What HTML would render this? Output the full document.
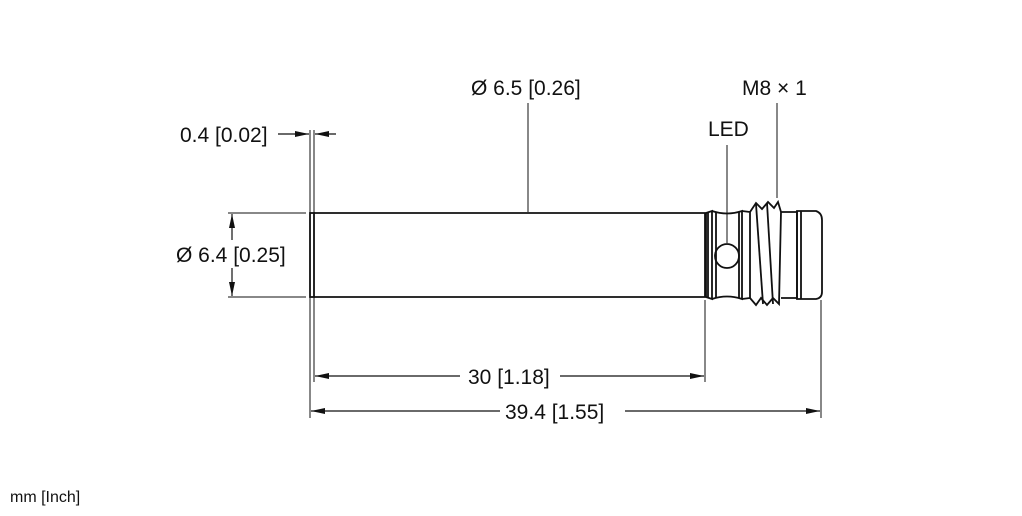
<!DOCTYPE html>
<html><head><style>
body{margin:0;background:#fff;width:1022px;height:511px;overflow:hidden}
text{font-family:"Liberation Sans",sans-serif;font-size:21px;fill:#111}
</style></head><body>
<svg width="1022" height="511" viewBox="0 0 1022 511">
<defs>
<marker id="a" viewBox="0 0 14 6" refX="14" refY="3" markerWidth="14" markerHeight="6" orient="auto-start-reverse" markerUnits="userSpaceOnUse"><path d="M0,0L14,3L0,6z" fill="#111"/></marker>
</defs>
<g stroke="#111" fill="none">
<g stroke-width="1">
<line x1="310" y1="130" x2="310" y2="418"/>
<line x1="314" y1="130" x2="314" y2="382"/>
<line x1="705" y1="300" x2="705" y2="382"/>
<line x1="821" y1="300" x2="821" y2="418"/>
<line x1="228" y1="213" x2="306" y2="213"/>
<line x1="228" y1="297" x2="306" y2="297"/>
<line x1="528" y1="103" x2="528" y2="212"/>
<line x1="727" y1="145" x2="727" y2="243"/>
<line x1="777" y1="103" x2="777" y2="198"/>
</g>
<g stroke-width="1.2">
<line x1="278" y1="134" x2="309" y2="134" marker-end="url(#a)"/>
<line x1="336" y1="134" x2="315" y2="134" marker-end="url(#a)"/>
<line x1="232" y1="240" x2="232" y2="214" marker-end="url(#a)"/>
<line x1="232" y1="268" x2="232" y2="296" marker-end="url(#a)"/>
<line x1="315" y1="376" x2="460" y2="376" marker-start="url(#a)"/>
<line x1="560" y1="376" x2="704" y2="376" marker-end="url(#a)"/>
<line x1="311" y1="411" x2="500" y2="411" marker-start="url(#a)"/>
<line x1="625" y1="411" x2="820" y2="411" marker-end="url(#a)"/>
</g>
<g stroke-width="1.8">
<rect x="310" y="213" width="4" height="84"/>
<path d="M314,213H706V297H314"/>
<line x1="705" y1="213" x2="705" y2="297"/>
<path d="M706,213 L712,211 L712,299 L706,297"/>
<line x1="708" y1="212" x2="708" y2="298"/>
<path d="M712,211 Q727,216 742,211 V299 Q727,294 712,299"/>
<line x1="716" y1="212" x2="716" y2="298"/>
<line x1="739" y1="212" x2="739" y2="298"/>
<circle cx="727" cy="256" r="12"/>
<path d="M742,211 L750,212 V298 L742,299"/>
<path d="M750,212 L756,203 L762,209 L768,202 L774,208 L778,202 L781,212 L779,304 L773,298 L767,305 L761,298 L756,305 L750,298"/>
<line x1="756" y1="204" x2="763" y2="304"/>
<line x1="767" y1="203" x2="773" y2="304"/>
<path d="M781,212 H797 V298 H781"/>
<path d="M797,211 H816 Q822,213 822,220 V292 Q822,298 816,299 H797 Z"/>
<line x1="801" y1="211" x2="801" y2="299"/>
</g>
</g>
<text x="180" y="142">0.4 [0.02]</text>
<text x="176" y="262">Ø 6.4 [0.25]</text>
<text x="471" y="95">Ø 6.5 [0.26]</text>
<text x="708" y="136">LED</text>
<text x="742" y="95">M8 × 1</text>
<text x="468" y="384">30 [1.18]</text>
<text x="505" y="419">39.4 [1.55]</text>
<text x="10" y="502" style="font-size:16px">mm [Inch]</text>
</svg>
</body></html>
